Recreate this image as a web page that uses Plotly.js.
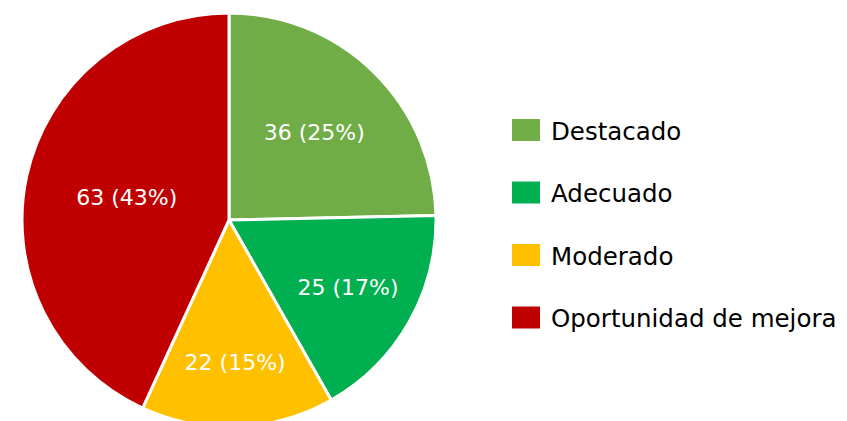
<!DOCTYPE html>
<html>
<head>
<meta charset="utf-8">
<script src="https://cdn.plot.ly/plotly-3.0.1.min.js"></script>
<style>
html,body{margin:0;padding:0;overflow:hidden;background:#fff;}
#chart{width:847px;height:440px;}
</style>
</head>
<body>
<div id="chart"></div>
<script>
const categories = ["Destacado", "Adecuado", "Moderado", "Oportunidad de mejora"];
const counts = [36, 25, 22, 63];
const colors = ["#70AD47", "#00B050", "#FFC000", "#C00000"];

const W = 847, H = 440;
const px = v => v / W;
const py = v => 1 - v / H;

const trace = {
  type: "pie",
  labels: categories,
  values: counts,
  sort: false,
  direction: "clockwise",
  rotation: 0,
  marker: { colors: colors, line: { color: "#ffffff", width: 3 } },
  texttemplate: "%{value} (%{percent:.0%})",
  textposition: "inside",
  insidetextorientation: "horizontal",
  insidetextfont: { family: "DejaVu Sans", size: 22, color: "#ffffff" },
  hoverinfo: "label+value+percent",
  domain: { x: [px(22), px(436)], y: [1 - 427 / H, 1 - 13 / H] },
  showlegend: false
};

const shapes = [];
const annotations = [];
categories.forEach((c, i) => {
  const yc = 130 + 62.5 * i;
  shapes.push({
    type: "rect", xref: "paper", yref: "paper",
    x0: px(512), x1: px(540), y0: py(yc + 11), y1: py(yc - 11),
    fillcolor: colors[i], line: { width: 0 }
  });
  annotations.push({
    xref: "paper", yref: "paper", x: px(549), y: py(yc + 1),
    xanchor: "left", yanchor: "middle", showarrow: false,
    text: c, font: { family: "DejaVu Sans", size: 24.5, color: "#000000" }
  });
});

const layout = {
  width: W, height: H,
  margin: { l: 0, r: 0, t: 0, b: 0, pad: 0 },
  paper_bgcolor: "#ffffff",
  plot_bgcolor: "#ffffff",
  showlegend: false,
  shapes: shapes,
  annotations: annotations
};

Plotly.newPlot("chart", [trace], layout, { displayModeBar: false, staticPlot: true });
</script>
</body>
</html>
